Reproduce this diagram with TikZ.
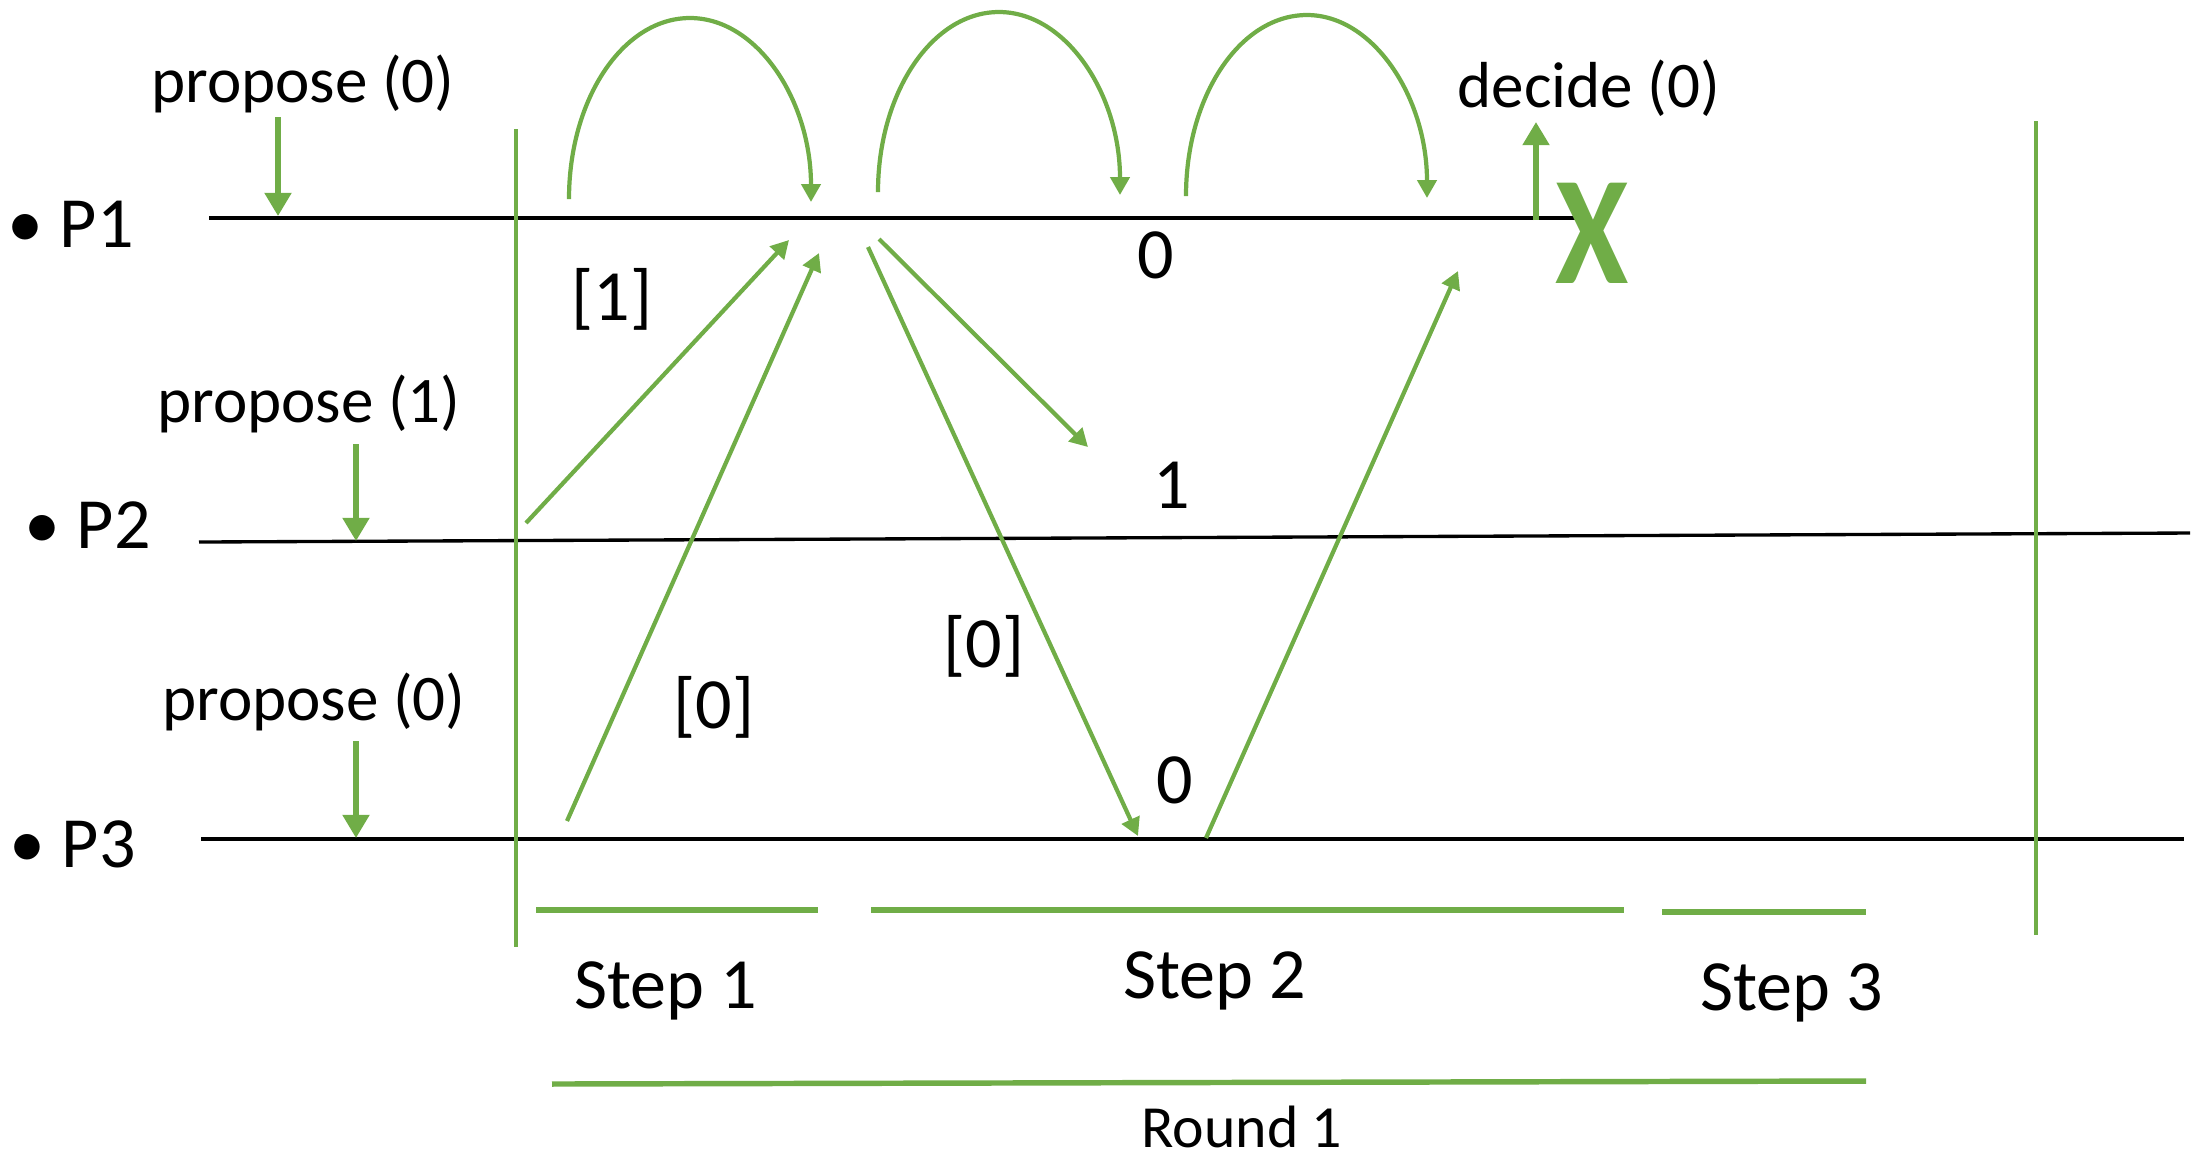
\documentclass[tikz,border=0pt]{standalone}
\usepackage{fontspec}
\setmainfont{Carlito}
\usetikzlibrary{arrows.meta}
\usetikzlibrary{positioning}
\definecolor{grn}{RGB}{112,173,71}
\tikzset{proc/.style = {draw=black, line width=0.95pt},
         sep/.style  = {draw=grn, line width=1pt},
         bar/.style  = {draw=grn, line width=1.55pt},
         msg/.style  = {draw=grn, line width=1.2pt, -{Triangle[width=5.4pt,length=5.1pt]}},
         big/.style  = {draw=grn, line width=1.5pt, -{Triangle[width=7.4pt,length=6.6pt]}},
         txt/.style  = {inner sep=0pt, anchor=base, font=\fontsize{20.5}{24}\selectfont},
         small/.style = {inner sep=0pt, anchor=base, font=\fontsize{18.5}{22}\selectfont}}

\begin{document}
\begin{tikzpicture}[x=0.01cm, y=-0.01cm]
    \useasboundingbox (0,0) rectangle (2199,1162);
    % process lines
    \coordinate (a1) at (209,218);  \coordinate (b1) at (1590,218);
    \coordinate (a2) at (199,542);  \coordinate (b2) at (2190,533);
    \coordinate (a3) at (201,839);  \coordinate (b3) at (2184,839);
    \draw[proc] (a1) -- (b1);
    \draw[proc] (a2) -- (b2);
    \draw[proc] (a3) -- (b3);
    \node[txt, anchor=base west] (P1) at (7,247) {• P1};
    \node[txt, anchor=base west] (P2) at (24,548) {• P2};
    \node[txt, anchor=base west] (P3) at (9,867) {• P3};

    % round boundaries
    \coordinate (r1) at (516,129);  \coordinate (r1e) at (516,947);
    \coordinate (r2) at (2036,121); \coordinate (r2e) at (2036,935);
    \draw[sep] (r1) -- (r1e);
    \draw[sep] (r2) -- (r2e);

    % proposals and decision
    \node[small] (prop1) at (303,102) {propose (0)};
    \node[small] (prop2) at (309,422) {propose (1)};
    \node[small] (prop3) at (314,720) {propose (0)};
    \coordinate (q1) at (278,117); \coordinate (t1) at (278,216);
    \coordinate (q2) at (356,444); \coordinate (t2) at (356,541);
    \coordinate (q3) at (356,741); \coordinate (t3) at (356,838);
    \draw[big] (q1) -- (t1);
    \draw[big] (q2) -- (t2);
    \draw[big] (q3) -- (t3);
    \node[small] (dec) at (1589,107) {decide (0)};
    \coordinate (d0) at (1536,220); \coordinate (d1) at (1536,122);
    \draw[big] (d0) -- (d1);
    \node[inner sep=0pt, text=grn, font=\fontsize{44}{50}\selectfont\bfseries] (halt) at (1592,233) {\scalebox{0.86}[1]{X}};

    % self messages of P1
    \coordinate (c1) at (569,199);  \coordinate (c1t) at (690,18);  \coordinate (c1e) at (811,202);
    \coordinate (c2) at (878,192);  \coordinate (c2t) at (999,12);  \coordinate (c2e) at (1120,195);
    \coordinate (c3) at (1186,196); \coordinate (c3t) at (1307,15); \coordinate (c3e) at (1427,198);
    \draw[msg] (c1) .. controls (569,99) and (623,18) .. (c1t) .. controls (757,18) and (811,100) .. (c1e);
    \draw[msg] (c2) .. controls (878,93) and (932,12) .. (c2t) .. controls (1066,12) and (1120,94) .. (c2e);
    \draw[msg] (c3) .. controls (1186,96) and (1240,15) .. (c3t) .. controls (1373,15) and (1427,97) .. (c3e);

    % messages between processes
    \coordinate (m1s) at (526,523);  \coordinate (m1e) at (789,240);
    \coordinate (m2s) at (567,821);  \coordinate (m2e) at (819,253);
    \coordinate (m3s) at (868,247);  \coordinate (m3e) at (1138,836);
    \coordinate (m4s) at (879,239);  \coordinate (m4e) at (1088,447);
    \coordinate (m5s) at (1206,838); \coordinate (m5e) at (1458,271);
    \draw[msg] (m1s) -- (m1e);
    \draw[msg] (m2s) -- (m2e);
    \draw[msg] (m3s) -- (m3e);
    \draw[msg] (m4s) -- (m4e);
    \draw[msg] (m5s) -- (m5e);
    \node[txt] (w1) at (612,320) {[1]};
    \node[txt] (w2) at (714,728) {[0]};
    \node[txt] (w3) at (984,667) {[0]};
    \node[txt] (v1) at (1156,278) {0};
    \node[txt] (v2) at (1172,508) {1};
    \node[txt] (v3) at (1175,803) {0};

    % steps and round
    \coordinate (k1) at (536,910);  \coordinate (k1e) at (818,910);
    \coordinate (k2) at (871,910);  \coordinate (k2e) at (1624,910);
    \coordinate (k3) at (1662,912); \coordinate (k3e) at (1866,912);
    \coordinate (rd) at (552,1084); \coordinate (rde) at (1866,1081);
    \draw[bar] (k1) -- (k1e);
    \draw[bar] (k2) -- (k2e);
    \draw[bar] (k3) -- (k3e);
    \draw[bar] (rd) -- (rde);
    \node[txt] (st1) at (666,1008) {Step 1};
    \node[txt] (st2) at (1215,998) {Step 2};
    \node[txt] (st3) at (1792,1010) {Step 3};
    \node[inner sep=0pt, anchor=base, font=\fontsize{17}{20}\selectfont] (rnd) at (1242,1147) {Round 1};
\end{tikzpicture}
\end{document}
